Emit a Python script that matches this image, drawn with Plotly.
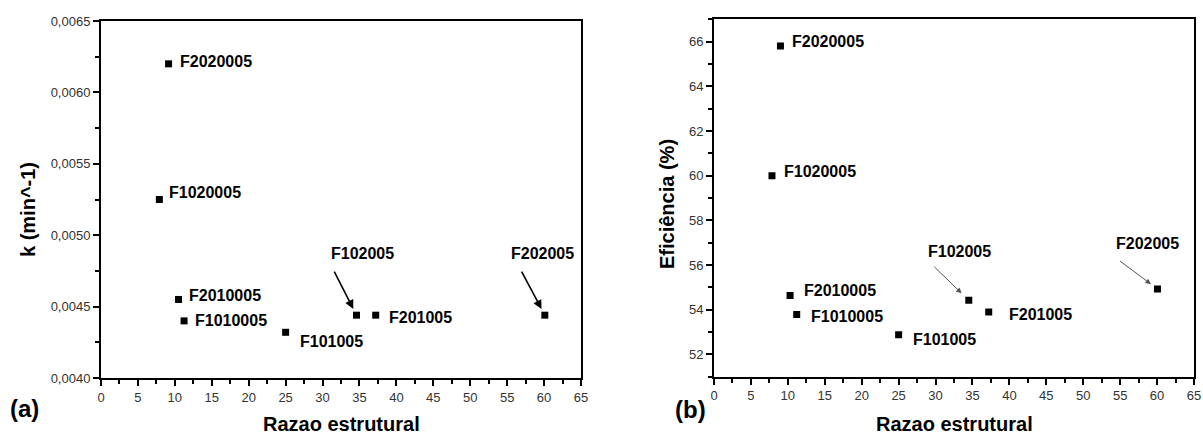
import plotly.graph_objects as go

# ---- data ----
names = ["F2020005", "F1020005", "F2010005", "F1010005",
         "F101005", "F102005", "F201005", "F202005"]
razao_a = [9.15, 7.9, 10.5, 11.25, 25.0, 34.6, 37.2, 60.1]
k_vals = [0.00620, 0.00525, 0.00455, 0.00440, 0.00432, 0.00444, 0.00444, 0.00444]
razao_b = [9.0, 7.85, 10.3, 11.2, 25.0, 34.5, 37.2, 60.05]
efic_vals = [65.8, 60.0, 54.64, 53.78, 52.88, 54.42, 53.9, 54.93]

x_ticks = [0, 5, 10, 15, 20, 25, 30, 35, 40, 45, 50, 55, 60, 65]
k_ticks = [0.0040, 0.0045, 0.0050, 0.0055, 0.0060, 0.0065]
ef_ticks = [52, 54, 56, 58, 60, 62, 64, 66]

# label offsets in pixels (xanchor, xshift, yshift)
lab_a = {"F2020005": ("left", 9, 2), "F1020005": ("left", 8, 7),
         "F2010005": ("left", 8, 4), "F1010005": ("left", 9, 0),
         "F101005": ("left", 12, -9), "F201005": ("left", 11, -2),
         "F102005": ("center", 6, 62), "F202005": ("center", -2, 62)}
lab_b = {"F2020005": ("left", 10, 5), "F1020005": ("left", 10, 4),
         "F2010005": ("left", 12, 5), "F1010005": ("left", 12, -2),
         "F101005": ("left", 12, -5), "F201005": ("left", 18, -3),
         "F102005": ("center", -9, 49), "F202005": ("center", -10, 45)}
arr_a = {"F102005": (-23, -45, 7), "F202005": (-24, -45, 7)}
arr_b = {"F102005": (-36, -35, 10), "F202005": (-39, -29, 8)}

W, H = 1203, 434
FONT = "Liberation Sans, Arial, sans-serif"

def fx(px):
    return px / W

def fy(py):
    return 1 - py / H

fig = go.Figure()
fig.add_trace(go.Scatter(x=razao_a, y=k_vals, mode="markers", xaxis="x", yaxis="y",
                         marker=dict(symbol="square", size=7, color="black"),
                         showlegend=False))
fig.add_trace(go.Scatter(x=razao_b, y=efic_vals, mode="markers", xaxis="x2", yaxis="y2",
                         marker=dict(symbol="square", size=7, color="black"),
                         showlegend=False))

ann = []
def labels(xs, ys, offs, arrows, xr, yr, acolor, awidth):
    for n, xv, yv in zip(names, xs, ys):
        anchor, dx, dy = offs[n]
        ann.append(dict(x=xv, y=yv, xref=xr, yref=yr, text="<b>%s</b>" % n,
                        showarrow=False, xanchor=anchor, yanchor="middle",
                        xshift=dx, yshift=dy,
                        font=dict(family=FONT, size=16, color="black")))
        if n in arrows:
            ax, ay, so = arrows[n]
            ann.append(dict(x=xv, y=yv, xref=xr, yref=yr, text="",
                            showarrow=True, ax=ax, ay=ay, axref="pixel", ayref="pixel",
                            arrowhead=2, arrowsize=1.1, arrowwidth=awidth,
                            arrowcolor=acolor, standoff=so))

labels(razao_a, k_vals, lab_a, arr_a, "x", "y", "black", 1.6)
labels(razao_b, efic_vals, lab_b, arr_b, "x2", "y2", "#555555", 1.0)

titles = [("<b>Razao estrutural</b>", 341, 424, 0),
          ("<b>Razao estrutural</b>", 954, 424, 0),
          ("<b>k (min^-1)</b>", 28, 210, -90),
          ("<b>Eficiência (%)</b>", 667, 204, -90)]
for t, px, py, ang in titles:
    ann.append(dict(x=fx(px), y=fy(py), xref="paper", yref="paper", text=t, showarrow=False,
                    xanchor="center", yanchor="middle", textangle=ang,
                    font=dict(family=FONT, size=20, color="black")))
for t, px, py in [("<b>(a)</b>", 24, 408), ("<b>(b)</b>", 690, 409)]:
    ann.append(dict(x=fx(px), y=fy(py), xref="paper", yref="paper", text=t, showarrow=False,
                    xanchor="center", yanchor="middle",
                    font=dict(family=FONT, size=24, color="black")))

axis_common = dict(showline=True, linewidth=2, linecolor="black", mirror=True,
                   ticks="outside", ticklen=6, tickwidth=1.5, tickcolor="black",
                   showgrid=False, zeroline=False, automargin=False,
                   tickfont=dict(family=FONT, size=13, color="#333333"))

fig.update_layout(
    template="none",
    width=W, height=H, margin=dict(l=0, r=0, t=0, b=0, autoexpand=False),
    paper_bgcolor="white", plot_bgcolor="white", separators=",.",
    xaxis=dict(domain=[fx(101), fx(581)], range=[0, 65], tickvals=x_ticks,
               minor=dict(dtick=2.5, tick0=0, ticks="outside", ticklen=4, tickwidth=1.5,
                          tickcolor="black"),
               anchor="y", **axis_common),
    yaxis=dict(domain=[fy(378), fy(21)], range=[0.0040, 0.0065],
               tickvals=k_ticks, tickformat=".4f",
               minor=dict(dtick=0.00025, tick0=0.004, ticks="outside", ticklen=4, tickwidth=1.5,
                          tickcolor="black"),
               anchor="x", **axis_common),
    xaxis2=dict(domain=[fx(714), fx(1194)], range=[0, 65], tickvals=x_ticks,
                minor=dict(dtick=2.5, tick0=0, ticks="outside", ticklen=4, tickwidth=1.5,
                           tickcolor="black"),
                anchor="y2", **axis_common),
    yaxis2=dict(domain=[fy(376.7), fy(19.3)], range=[51, 67], tickvals=ef_ticks,
                minor=dict(dtick=1, tick0=51, ticks="outside", ticklen=4, tickwidth=1.5,
                           tickcolor="black"),
                anchor="x2", **axis_common),
    annotations=ann,
)

fig.write_html("out.html",
               config={"displayModeBar": False},
               post_script="document.body.style.margin='0';"
                           "document.body.style.overflow='hidden';")
